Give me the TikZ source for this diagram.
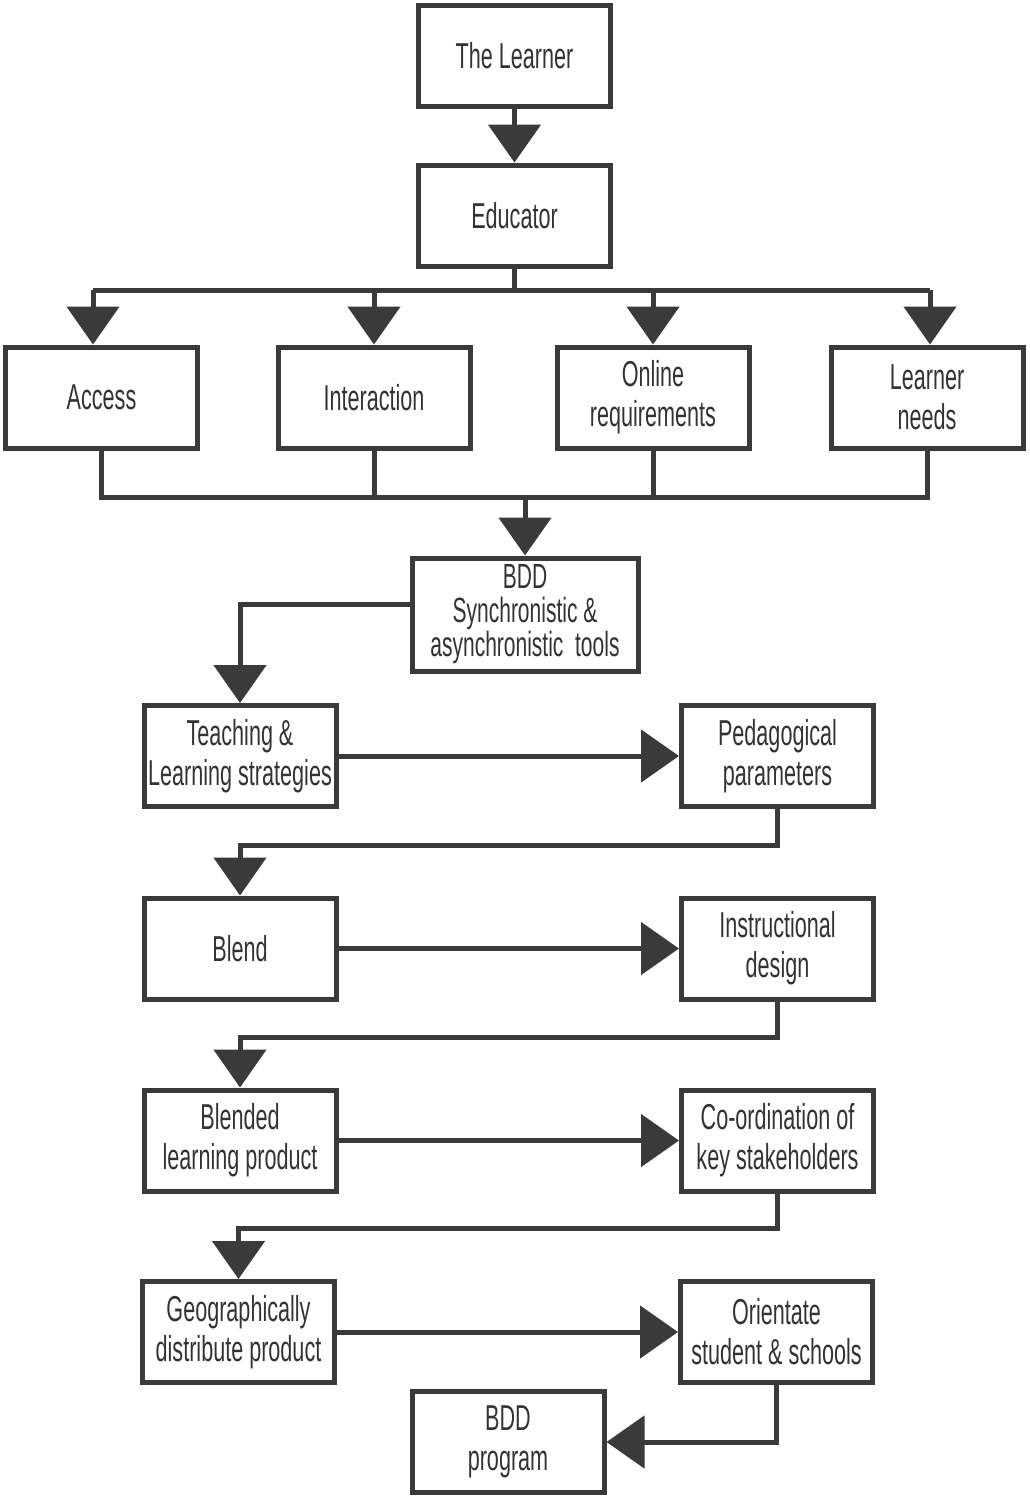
\documentclass[tikz,border=0pt]{standalone}
\usepackage{fontspec}
\setmainfont{Liberation Sans}[FakeStretch=0.6]
\usetikzlibrary{arrows.meta,calc}
\definecolor{ink}{HTML}{3A3A3A}
\definecolor{txt}{HTML}{333333}
\begin{document}
\begin{tikzpicture}[x=1pt,y=-1pt,
  box/.style={draw=ink,line width=5pt,minimum width=192pt,minimum height=101pt,
    inner sep=0pt,align=center,text=txt,font=\fontsize{36}{40}\selectfont},
  ln/.style={draw=ink,line width=5pt,line join=miter},
  arr/.style={ln,-{Triangle[length=38pt,width=52pt]}}]
\useasboundingbox (0,0) rectangle (1029,1500);
\fill[white] (0,0) rectangle (1029,1500);
\node[box] (learner) at (514.5,55.5) {The Learner};
\node[box] (educator) at (514.5,215.5) {Educator};
\node[box] (access) at (101.5,397.5) {Access};
\node[box] (interaction) at (374,397.5) {Interaction};
\node[box] (online) at (653,397.5) {Online\\requirements};
\node[box] (needs) at (927,397.5) {Learner\\needs};
\node[box,minimum width=226pt,minimum height=113pt,font=\fontsize{35}{34}\selectfont] (tools) at (525,614.5) {BDD\\Synchronistic \&\\asynchronistic\ \ tools};
\node[box] (teach) at (240,756) {Teaching \&\\Learning strategies};
\node[box] (peda) at (777.5,756) {Pedagogical\\parameters};
\node[box] (blend) at (240,948.5) {Blend};
\node[box] (instr) at (777.5,948.5) {Instructional\\design};
\node[box] (blended) at (240,1140.5) {Blended\\learning product};
\node[box] (coord) at (777.5,1140.5) {Co-ordination of\\key stakeholders};
\node[box] (geo) at (238.5,1332) {Geographically\\distribute product};
\node[box] (orient) at (776.5,1332) {Orientate\\student \& schools};
\node[box] (prog) at (508,1442) {BDD\\program};
% top
\draw[arr] (learner) -- (educator);
\coordinate (busL) at (93,290);
\coordinate (busR) at (930,290);
\draw[ln] (educator.south) -- (educator.south |- busL);
\draw[ln] (busL) -- (busR);
\draw[arr] (busL) -- (access.north -| busL);
\draw[arr] (interaction.north |- busL) -- (interaction.north);
\draw[arr] (online.north |- busL) -- (online.north);
\draw[arr] (busR) -- (needs.north -| busR);
% lower bus
\coordinate (bus2) at (525,497);
\draw[ln] (access.south) -- (access.south |- bus2) -- (needs.south |- bus2) -- (needs.south);
\draw[ln] (interaction.south) -- (interaction.south |- bus2);
\draw[ln] (online.south) -- (online.south |- bus2);
\draw[arr] (bus2) -- (tools.north);
% chain
\draw[arr] ([yshift=10pt]tools.west) -| (teach.north);
\draw[arr] (teach) -- (peda);
\draw[arr] (peda.south) -- ++(0,36) -| (blend.north);
\draw[arr] (blend) -- (instr);
\draw[arr] (instr.south) -- ++(0,36) -| (blended.north);
\draw[arr] (blended) -- (coord);
\draw[arr] (coord.south) -- ++(0,35) -| (geo.north);
\draw[arr] (geo) -- (orient);
\draw[arr] (orient.south) |- (prog.east);
\end{tikzpicture}
\end{document}
